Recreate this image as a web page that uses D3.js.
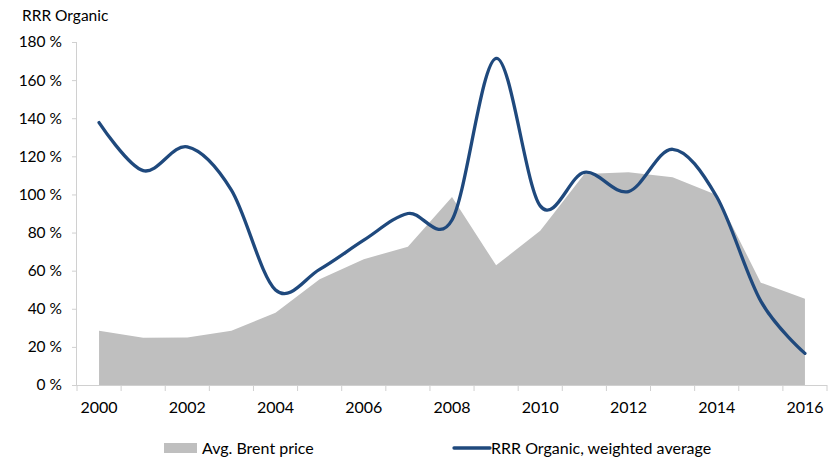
<!DOCTYPE html>
<html><head><meta charset="utf-8">
<script src="https://cdn.jsdelivr.net/npm/d3@7"></script>
<style>body{margin:0;background:#fff}svg{display:block}text{font-family:Lato,"Open Sans",sans-serif;fill:#000}</style>
</head><body><svg id="c" width="833" height="459"></svg>
<script>
const years = ["2000","2001","2002","2003","2004","2005","2006","2007","2008","2009","2010","2011","2012","2013","2014","2015","2016"];
const brent = [28.5,24.8,24.9,28.5,37.9,55.5,66,72.6,98.6,62.8,81,110.7,111.6,109,99.7,53.7,45.3];
const rrr = [137.7,112.5,125,102.3,49.9,60.7,76,90,86.6,171.4,94,111.6,101.5,123.7,98.8,44,16.6];
const yTicks = [0,20,40,60,80,100,120,140,160,180];
const xLabels = ["2000","2002","2004","2006","2008","2010","2012","2014","2016"];

const svg = d3.select("#c");
const L=77, R=827, T=42, B=385;
const x = d3.scaleBand().domain(years).range([L,R]).paddingInner(0).paddingOuter(0);
const cx = d => x(d)+x.bandwidth()/2;
const y = d3.scaleLinear().domain([0,180]).range([B,T]);
const axisColor="#d0d0d0";

// area
const area = d3.area().x((d,i)=>cx(years[i])).y0(y(0)).y1(d=>y(d));
svg.append("path").datum(brent).attr("d",area).attr("fill","#bfbfbf");

// axes
const ya = svg.append("g").attr("transform",`translate(${L},0)`).call(d3.axisLeft(y).tickValues(yTicks).tickSize(5).tickFormat(d=>d+" %"));
ya.select(".domain").attr("stroke",axisColor).attr("d",`M-0.5,${T}V${B}`);
ya.selectAll(".tick line").attr("stroke",axisColor);
ya.selectAll(".tick text").attr("x",-15).style("font-size","15.5px").attr("fill","#000");

const xa = svg.append("g").attr("transform",`translate(0,${B})`).call(d3.axisBottom(x).tickValues([]).tickSizeOuter(0));
xa.select(".domain").attr("stroke",axisColor).attr("d",`M${L},0.5H${R}`);
const bounds = years.map(d=>x(d)).concat([R]);
xa.selectAll("line.bt").data(bounds).join("line").attr("class","bt")
  .attr("x1",d=>d).attr("x2",d=>d).attr("y1",0).attr("y2",6).attr("stroke",axisColor);
xa.selectAll("text.xl").data(xLabels).join("text").attr("class","xl")
  .attr("x",d=>cx(d)).attr("y",27.5).attr("text-anchor","middle").style("font-size","16px").text(d=>d);

// line
const line = d3.line().x((d,i)=>cx(years[i])).y(d=>y(d)).curve(d3.curveCardinal.tension(0));
svg.append("path").datum(rrr).attr("d",line).attr("fill","none").attr("stroke","#1f497d").attr("stroke-width",3.3).attr("stroke-linecap","round");

// title
svg.append("text").attr("x",22).attr("y",21).style("font-size","15.5px").text("RRR Organic");

// legend
svg.append("rect").attr("x",164).attr("y",443).attr("width",33).attr("height",10).attr("fill","#bfbfbf");
svg.append("text").attr("x",202).attr("y",453.5).style("font-size","16px").text("Avg. Brent price");
svg.append("line").attr("x1",454).attr("x2",490).attr("y1",448).attr("y2",448).attr("stroke","#1f497d").attr("stroke-width",3.3).attr("stroke-linecap","round");
svg.append("text").attr("x",491).attr("y",453.5).style("font-size","16px").text("RRR Organic, weighted average");
</script></body></html>
